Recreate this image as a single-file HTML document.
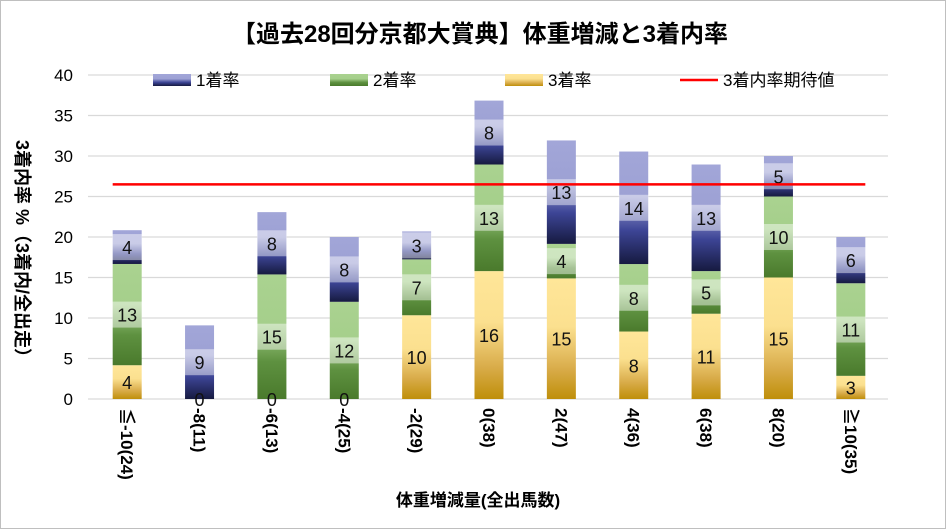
<!DOCTYPE html>
<html><head><meta charset="utf-8"><style>
body{margin:0;background:#fff;}
#wrap{position:relative;width:946px;height:529px;overflow:hidden;font-family:"Liberation Sans","Noto Sans CJK JP",sans-serif;}
</style></head><body>
<div id="wrap">
<svg id="chart" width="946" height="529" xmlns="http://www.w3.org/2000/svg">
<defs>
<linearGradient id="g1" x1="0" y1="0" x2="0" y2="1"><stop offset="0" stop-color="#a2a6d8"/><stop offset="0.4" stop-color="#9da1d4"/><stop offset="0.7" stop-color="#3d4596"/><stop offset="1" stop-color="#161a40"/></linearGradient>
<linearGradient id="g2" x1="0" y1="0" x2="0" y2="1"><stop offset="0" stop-color="#aad290"/><stop offset="0.4" stop-color="#a5cf8b"/><stop offset="0.7" stop-color="#5e9140"/><stop offset="1" stop-color="#4a7a2c"/></linearGradient>
<linearGradient id="g3" x1="0" y1="0" x2="0" y2="1"><stop offset="0" stop-color="#ffe699"/><stop offset="0.4" stop-color="#fbe08f"/><stop offset="0.75" stop-color="#d9ac4a"/><stop offset="1" stop-color="#bf8f0a"/></linearGradient>
</defs>
<rect x="0.5" y="0.5" width="945" height="528" fill="#fff" stroke="#bfbfbf"/>
<text x="480" y="42" text-anchor="middle" font-size="24" font-weight="bold">【過去28回分京都大賞典】体重増減と3着内率</text>
<g id="grid"></g><g id="bars"></g><g id="labels"></g><g id="xl"></g>
<g>
<rect x="153" y="74" width="38" height="12" fill="url(#g1)"/>
<text x="196" y="86" font-size="17">1着率</text>
<rect x="330" y="74" width="38" height="12" fill="url(#g2)"/>
<text x="373" y="86" font-size="17">2着率</text>
<rect x="505" y="74" width="38" height="12" fill="url(#g3)"/>
<text x="548" y="86" font-size="17">3着率</text>
<line x1="680" y1="80" x2="718" y2="80" stroke="#ff0000" stroke-width="2.5"/>
<text x="723" y="86" font-size="17">3着内率期待値</text>
</g>
<text x="0" y="0" transform="translate(16,140) rotate(90)" font-size="18" font-weight="bold">3着内率 %（3着内/全出走）</text>
<text x="478" y="506" text-anchor="middle" font-size="17" font-weight="bold">体重増減量(全出馬数)</text>
</svg>
</div>
<script>
const categories=["≦-10(24)","-8(11)","-6(13)","-4(25)","-2(29)","0(38)","2(47)","4(36)","6(38)","8(20)","≧10(35)"];
const third=[4.17,0,0,0,10.34,15.79,14.89,8.33,10.53,15,2.86];
const second=[12.5,0,15.38,12,6.9,13.16,4.26,8.33,5.26,10,11.43];
const first=[4.17,9.09,7.69,8,3.45,7.89,12.77,13.89,13.16,5,5.71];
const expected=26.5;
const yTicks=[0,5,10,15,20,25,30,35,40];
const NS="http://www.w3.org/2000/svg";
const x0=91,x1=887,gx0=88,gx1=868,yb=399,yt=75,ymax=40;
const step=(x1-x0)/categories.length;
const X=i=>x0+step*(i+0.5);
const Y=v=>yb-(v/ymax)*(yb-yt);
function mk(t,a,p){const e=document.createElementNS(NS,t);for(const k in a)e.setAttribute(k,a[k]);p.appendChild(e);return e;}
const grid=document.getElementById('grid'),bars=document.getElementById('bars'),labels=document.getElementById('labels'),xl=document.getElementById('xl');
yTicks.forEach(t=>{
 const l=mk('line',{x1:gx0,x2:gx1+20,y1:Y(t),y2:Y(t),stroke:'#d9d9d9','stroke-width':1.3},grid);
 
 
 const tx=mk('text',{x:73,y:Y(t)+6,'text-anchor':'end','font-size':17},grid);
 tx.textContent=t;
 
 
});
const bw=29;
categories.forEach((c,i)=>{
 const segs=[[third[i],'g3','third'],[second[i],'g2','second'],[first[i],'g1','first']];
 let base=0;
 segs.forEach(([v,g,n])=>{
  if(v>0){
   const r=mk('rect',{x:X(i)-bw/2,y:Y(base+v),width:bw,height:Y(base)-Y(base+v),fill:'url(#'+g+')'},bars);
   
   
  }
  const cy=(Y(base)+Y(base+v))/2;
  if(n==='third'||v>0){
   if(n!=='third'){
    const b=mk('rect',{x:X(i)-15,y:cy-13,width:30,height:26,fill:'rgba(255,255,255,0.45)'},labels);
    
    
   }
   const t=mk('text',{x:X(i),y:cy+7,'text-anchor':'middle','font-size':18,fill:'#111'},labels);
   t.textContent=Math.round(v);
   
   
  }
  base+=v;
 });
 const t=mk('text',{x:0,y:0,'font-size':17,'font-weight':'bold',transform:'translate('+(X(i)-6)+',408) rotate(90)'},xl);
 t.textContent=c;
 
 
});
const ln=mk('line',{x1:X(0)-bw/2,x2:X(categories.length-1)+bw/2,y1:Y(expected),y2:Y(expected),stroke:'#ff0000','stroke-width':2.5},labels);


</script>
</body></html>
